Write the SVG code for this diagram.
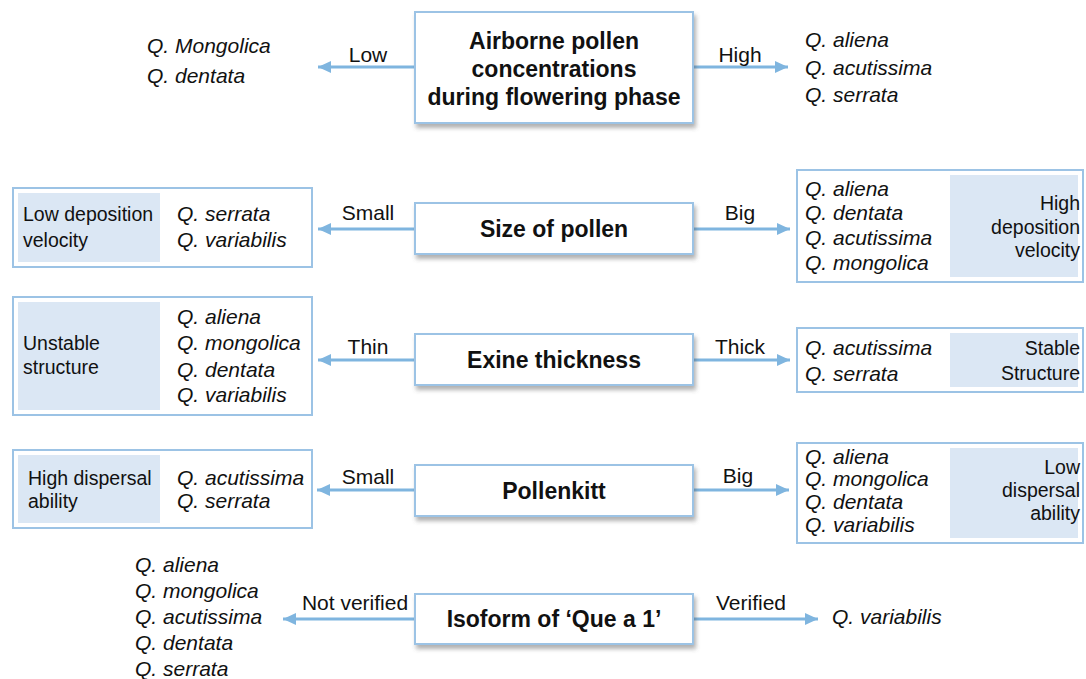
<svg xmlns="http://www.w3.org/2000/svg" width="1086" height="679" viewBox="0 0 1086 679">
<defs>
<filter id="sh" x="-10%" y="-20%" width="120%" height="150%">
<feDropShadow dx="2" dy="4" stdDeviation="2" flood-color="#555" flood-opacity="0.45"/>
</filter>
<marker id="ah" markerUnits="userSpaceOnUse" markerWidth="14" markerHeight="12" refX="13" refY="6" orient="auto">
<path d="M0,0 L13,6 L0,12 z" fill="#7fb5df"/>
</marker>
<style>
.cb{fill:#fff;stroke:#9cc3e5;stroke-width:2;filter:url(#sh)}
.sb{fill:#fff;stroke:#9cc3e5;stroke-width:2}
.sh{fill:#dbe7f4}
.ct{font-family:"Liberation Sans",Arial,sans-serif;font-weight:bold;font-size:23px;fill:#111;text-anchor:middle}
.sp{font-family:"Liberation Sans",Arial,sans-serif;font-style:italic;font-size:21px;fill:#111}
.lb{font-family:"Liberation Sans",Arial,sans-serif;font-size:19.5px;fill:#111}
.al{font-family:"Liberation Sans",Arial,sans-serif;font-size:21px;fill:#111;text-anchor:middle}
.r{text-anchor:end}
.cn{stroke:#7fb5df;stroke-width:3;fill:none;marker-end:url(#ah)}
</style>
</defs>
<rect width="1086" height="679" fill="#fff"/>

<g id="connectors">
<line class="cn" x1="415" y1="67" x2="318" y2="67"/>
<line class="cn" x1="693" y1="67" x2="788" y2="67"/>
<line class="cn" x1="415" y1="229" x2="318" y2="229"/>
<line class="cn" x1="693" y1="229" x2="790" y2="229"/>
<line class="cn" x1="415" y1="360" x2="318" y2="360"/>
<line class="cn" x1="693" y1="360" x2="790" y2="360"/>
<line class="cn" x1="415" y1="490" x2="317" y2="490"/>
<line class="cn" x1="693" y1="490" x2="789" y2="490"/>
<line class="cn" x1="415" y1="619" x2="283" y2="619"/>
<line class="cn" x1="693" y1="619" x2="818" y2="619"/>
<text class="al" x="368" y="62">Low</text>
<text class="al" x="740" y="62">High</text>
<text class="al" x="368" y="220">Small</text>
<text class="al" x="740" y="220">Big</text>
<text class="al" x="368" y="354">Thin</text>
<text class="al" x="740" y="354">Thick</text>
<text class="al" x="368" y="484">Small</text>
<text class="al" x="738" y="483">Big</text>
<text class="al" x="355" y="610">Not verified</text>
<text class="al" x="751" y="610">Verified</text>
</g>

<g id="airborne">
<rect class="cb" x="415" y="12" width="278" height="111"/>
<text class="ct" x="554" y="49">Airborne pollen</text>
<text class="ct" x="554" y="77">concentrations</text>
<text class="ct" x="554" y="105">during flowering phase</text>
</g>
<g id="airborne-low">
<text class="sp" x="147" y="53">Q. Mongolica</text>
<text class="sp" x="147" y="83">Q. dentata</text>
</g>
<g id="airborne-high">
<text class="sp" x="805" y="47">Q. aliena</text>
<text class="sp" x="805" y="75">Q. acutissima</text>
<text class="sp" x="805" y="102">Q. serrata</text>
</g>

<g id="size">
<rect class="cb" x="415" y="203" width="278" height="51"/>
<text class="ct" x="554" y="237">Size of pollen</text>
</g>
<g id="size-small">
<rect class="sb" x="13" y="188" width="299" height="79"/>
<rect class="sh" x="18" y="193" width="142" height="69"/>
<text class="lb" x="23" y="221">Low deposition</text>
<text class="lb" x="23" y="247">velocity</text>
<text class="sp" x="177" y="221">Q. serrata</text>
<text class="sp" x="177" y="247">Q. variabilis</text>
</g>
<g id="size-big">
<rect class="sb" x="797" y="170" width="286" height="112"/>
<rect class="sh" x="950" y="175" width="128" height="102"/>
<text class="sp" x="805" y="196">Q. aliena</text>
<text class="sp" x="805" y="220">Q. dentata</text>
<text class="sp" x="805" y="245">Q. acutissima</text>
<text class="sp" x="805" y="270">Q. mongolica</text>
<text class="lb r" x="1080" y="210">High</text>
<text class="lb r" x="1080" y="234">deposition</text>
<text class="lb r" x="1080" y="257">velocity</text>
</g>

<g id="exine">
<rect class="cb" x="415" y="334" width="278" height="51"/>
<text class="ct" x="554" y="368">Exine thickness</text>
</g>
<g id="exine-thin">
<rect class="sb" x="13" y="297" width="299" height="118"/>
<rect class="sh" x="18" y="302" width="142" height="108"/>
<text class="lb" x="23" y="350">Unstable</text>
<text class="lb" x="23" y="374">structure</text>
<text class="sp" x="177" y="324">Q. aliena</text>
<text class="sp" x="177" y="350">Q. mongolica</text>
<text class="sp" x="177" y="377">Q. dentata</text>
<text class="sp" x="177" y="402">Q. variabilis</text>
</g>
<g id="exine-thick">
<rect class="sb" x="797" y="328" width="286" height="64"/>
<rect class="sh" x="950" y="333" width="128" height="54"/>
<text class="sp" x="805" y="355">Q. acutissima</text>
<text class="sp" x="805" y="381">Q. serrata</text>
<text class="lb r" x="1080" y="355">Stable</text>
<text class="lb r" x="1080" y="380">Structure</text>
</g>

<g id="pollenkitt">
<rect class="cb" x="415" y="465" width="278" height="51"/>
<text class="ct" x="554" y="499">Pollenkitt</text>
</g>
<g id="pollenkitt-small">
<rect class="sb" x="13" y="450" width="299" height="78"/>
<rect class="sh" x="18" y="455" width="142" height="68"/>
<text class="lb" x="28" y="485">High dispersal</text>
<text class="lb" x="28" y="508">ability</text>
<text class="sp" x="177" y="485">Q. acutissima</text>
<text class="sp" x="177" y="508">Q. serrata</text>
</g>
<g id="pollenkitt-big">
<rect class="sb" x="797" y="443" width="286" height="100"/>
<rect class="sh" x="950" y="448" width="128" height="90"/>
<text class="sp" x="805" y="464">Q. aliena</text>
<text class="sp" x="805" y="486">Q. mongolica</text>
<text class="sp" x="805" y="509">Q. dentata</text>
<text class="sp" x="805" y="532">Q. variabilis</text>
<text class="lb r" x="1080" y="474">Low</text>
<text class="lb r" x="1080" y="497">dispersal</text>
<text class="lb r" x="1080" y="520">ability</text>
</g>

<g id="isoform">
<rect class="cb" x="415" y="594" width="278" height="50"/>
<text class="ct" x="554" y="627">Isoform of ‘Que a 1’</text>
</g>
<g id="isoform-not">
<text class="sp" x="135" y="572">Q. aliena</text>
<text class="sp" x="135" y="598">Q. mongolica</text>
<text class="sp" x="135" y="624">Q. acutissima</text>
<text class="sp" x="135" y="650">Q. dentata</text>
<text class="sp" x="135" y="676">Q. serrata</text>
</g>
<g id="isoform-verified">
<text class="sp" x="832" y="624">Q. variabilis</text>
</g>
</svg>
